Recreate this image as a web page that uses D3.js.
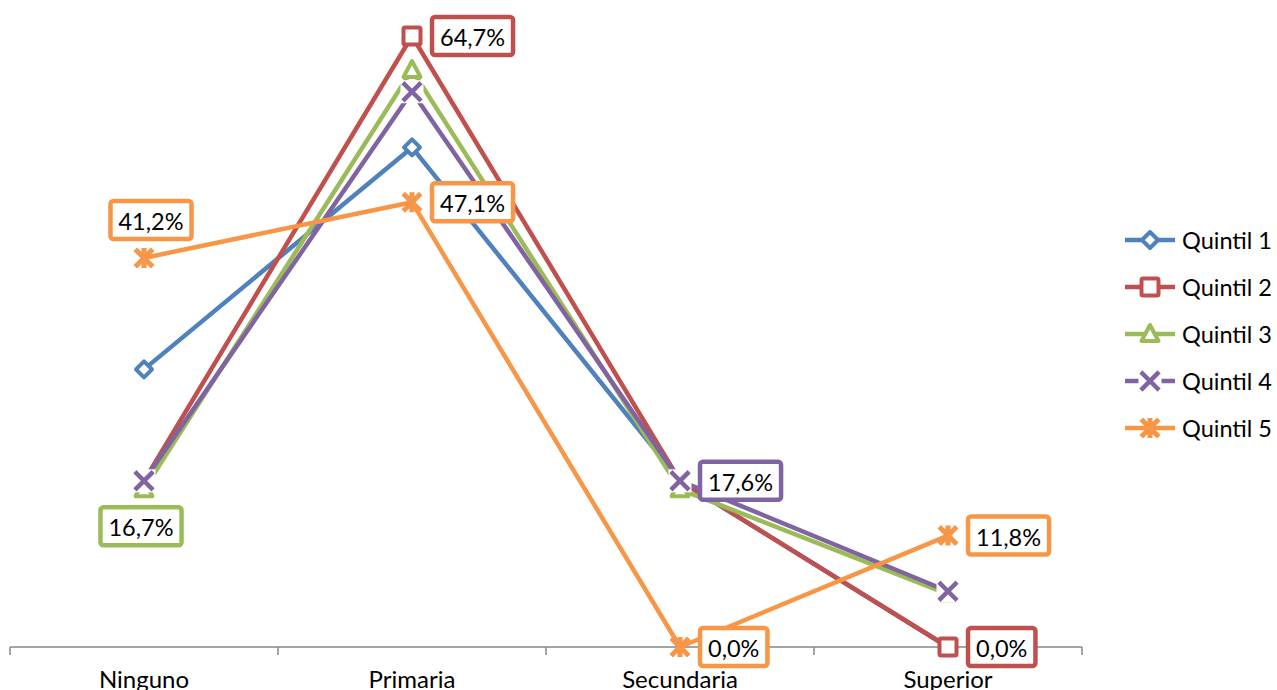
<!DOCTYPE html>
<html>
<head>
<meta charset="utf-8">
<script src="https://cdn.jsdelivr.net/npm/d3@7"></script>
<style>
  html, body { margin: 0; padding: 0; background: #fff; }
  svg { display: block; font-family: Lato, "Open Sans", sans-serif; }
</style>
</head>
<body>
<svg id="chart" width="1277" height="690"></svg>
<script>
// Nivel educativo por quintil (%)
const categories = ["Ninguno", "Primaria", "Secundaria", "Superior"];
const seriesNames = ["Quintil 1", "Quintil 2", "Quintil 3", "Quintil 4", "Quintil 5"];
const quintil1 = [29.4, 52.9, 17.6, 0.0];
const quintil2 = [17.6, 64.7, 17.6, 0.0];
const quintil3 = [16.7, 61.1, 16.7, 5.6];
const quintil4 = [17.6, 58.8, 17.6, 5.9];
const quintil5 = [41.2, 47.1, 0.0, 11.8];
const seriesValues = [quintil1, quintil2, quintil3, quintil4, quintil5];
const colors = ["#4F81BD", "#C0504D", "#9BBB59", "#8064A2", "#F79646"];
const markerTypes = ["diamond", "square", "triangle", "x", "star"];
// Etiquetas de datos mostradas: [serie, categoría, posición]
const dataLabels = [
  [4, 0, "above"],
  [2, 0, "below"],
  [1, 1, "right"],
  [4, 1, "right"],
  [3, 2, "right"],
  [4, 2, "right"],
  [4, 3, "right"],
  [1, 3, "right"]
];

const svg = d3.select("#chart");

const x = d3.scaleBand().domain(categories).range([10, 1082]).paddingInner(0).paddingOuter(0);
const cx = c => x(c) + x.bandwidth() / 2;
const y = d3.scaleLinear().domain([0, 64.7]).range([647, 36]);

// Eje de categorías
const axisG = svg.append("g").attr("transform", `translate(0,${y(0)})`);
axisG.append("line").attr("x1", 10).attr("x2", 1082).attr("y1", 0).attr("y2", 0)
  .attr("stroke", "#868686").attr("stroke-width", 1.5);
const bounds = categories.map(c => x(c)).concat([x.range()[1]]);
axisG.selectAll("line.tick").data(bounds).join("line").attr("class", "tick")
  .attr("x1", d => d).attr("x2", d => d).attr("y1", 0).attr("y2", 8)
  .attr("stroke", "#868686").attr("stroke-width", 1.5);
const xAxis = d3.axisBottom(x).tickSize(0).tickPadding(0);
const xg = svg.append("g").attr("transform", "translate(0,647)").call(xAxis);
xg.select(".domain").remove();
xg.selectAll("text").attr("font-size", 24).attr("fill", "#000")
  .attr("font-family", "Lato, 'Open Sans', sans-serif")
  .attr("dy", 0).attr("y", 41);

function drawMarker(g, type, color, px, py) {
  const m = g.append("g").attr("transform", `translate(${px},${py})`);
  if (type === "diamond") {
    m.append("path").attr("d", "M0,-8 L8,0 L0,8 L-8,0 Z")
      .attr("fill", "#fff").attr("stroke", color).attr("stroke-width", 4).attr("stroke-linejoin", "round");
  } else if (type === "square") {
    m.append("rect").attr("x", -8.5).attr("y", -8.5).attr("width", 17).attr("height", 17)
      .attr("fill", "#fff").attr("stroke", color).attr("stroke-width", 4).attr("rx", 1.5);
  } else if (type === "triangle") {
    m.append("path").attr("d", "M0,-9 L8.5,7 L-8.5,7 Z")
      .attr("fill", "#fff").attr("stroke", color).attr("stroke-width", 4).attr("stroke-linejoin", "round");
  } else if (type === "x") {
    m.append("rect").attr("x", -11.5).attr("y", -11.5).attr("width", 23).attr("height", 23).attr("fill", "#fff");
    m.append("path").attr("d", "M-7.5,-7.5 L7.5,7.5 M7.5,-7.5 L-7.5,7.5")
      .attr("stroke", color).attr("stroke-width", 4.5).attr("stroke-linecap", "square");
  } else if (type === "star") {
    m.append("path").attr("d", "M-7,-7 L7,7 M7,-7 L-7,7 M0,-7.5 L0,7.5")
      .attr("stroke", color).attr("stroke-width", 5).attr("stroke-linecap", "square");
  }
}

const line = d3.line().x((d, i) => cx(categories[i])).y(d => y(d));

// Series: línea y marcadores, en orden
seriesValues.forEach((vals, s) => {
  const g = svg.append("g");
  g.append("path").datum(vals).attr("d", line)
    .attr("fill", "none").attr("stroke", colors[s]).attr("stroke-width", 4.5).attr("stroke-linejoin", "round");
  vals.forEach((v, i) => drawMarker(g, markerTypes[s], colors[s], cx(categories[i]), y(v)));
});

// Etiquetas de datos con recuadro
const fmt = v => v.toFixed(1).replace(".", ",") + "%";
dataLabels.forEach(([s, c, pos]) => {
  const v = seriesValues[s][c];
  const px = cx(categories[c]), py = y(v);
  const g = svg.append("g");
  const t = g.append("text").text(fmt(v)).attr("font-size", 23.5).attr("fill", "#000")
    .attr("dominant-baseline", "central");
  const tw = t.node().getComputedTextLength();
  const w = tw + 16, h = 38;
  let bx, by;
  if (pos === "right") { bx = px + 20; by = py - h / 2; }
  else if (pos === "above") { bx = px + 7 - w / 2; by = py - 19 - h; }
  else { bx = px - 3 - w / 2; by = py + 18; }
  g.insert("rect", "text").attr("x", bx).attr("y", by).attr("width", w).attr("height", h)
    .attr("rx", 3).attr("fill", "#fff").attr("stroke", colors[s]).attr("stroke-width", 4.5);
  t.attr("x", bx + 8).attr("y", by + h / 2 + 1);
});

// Leyenda
const legend = svg.append("g");
seriesNames.forEach((name, s) => {
  const ly = 240 + s * 47;
  const g = legend.append("g");
  g.append("line").attr("x1", 1125).attr("x2", 1175).attr("y1", ly).attr("y2", ly)
    .attr("stroke", colors[s]).attr("stroke-width", 4.5);
  drawMarker(g, markerTypes[s], colors[s], 1150, ly);
  g.append("text").attr("x", 1182).attr("y", ly).attr("dominant-baseline", "central")
    .attr("font-size", 23.5).attr("fill", "#000").text(name);
});
</script>
</body>
</html>
